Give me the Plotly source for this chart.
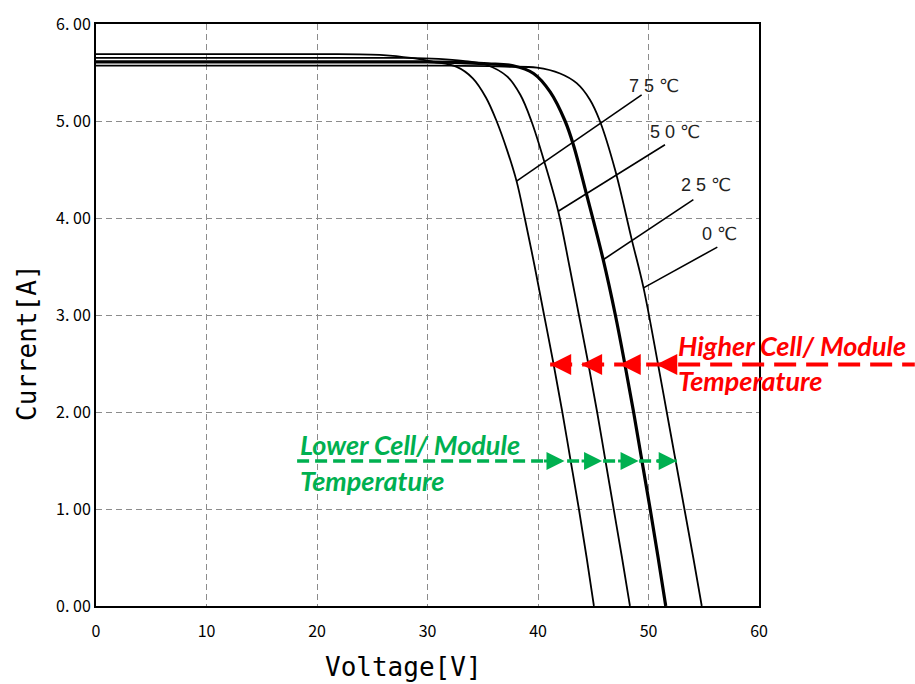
import plotly.graph_objects as go

# I-V characteristics of a PV module at four cell temperatures
v_75 = [0, 20, 26, 28.5, 30.5, 32.6, 34.1, 35.3, 36.25, 37.2, 38.06, 38.8, 39.7, 40.55, 41.4, 42.2, 42.95, 43.7, 44.4, 45.06]
i_75 = [5.69, 5.69, 5.68, 5.65, 5.61, 5.56, 5.44, 5.24, 5.00, 4.70, 4.38, 4.00, 3.50, 3.00, 2.50, 2.00, 1.50, 1.00, 0.50, 0.0]

v_50 = [0, 20, 28, 31, 33.2, 35.3, 37.2, 38.4, 39.4, 40.6, 41.83, 42.85, 43.7, 44.55, 45.35, 46.1, 46.85, 47.6, 48.32]
i_50 = [5.65, 5.65, 5.65, 5.64, 5.62, 5.58, 5.46, 5.27, 5.00, 4.57, 4.07, 3.50, 3.00, 2.50, 2.00, 1.50, 1.00, 0.50, 0.0]

v_25 = [0, 20, 30, 33.5, 35.5, 37.75, 39.6, 41.1, 42.45, 43.2, 44.4, 45.9, 47.0, 47.85, 48.65, 49.4, 50.15, 50.87, 51.56]
i_25 = [5.61, 5.61, 5.61, 5.60, 5.59, 5.57, 5.49, 5.30, 5.00, 4.755, 4.24, 3.57, 3.00, 2.50, 2.00, 1.50, 1.00, 0.50, 0.0]

v_0 = [0, 20, 32, 37, 39.9, 42.0, 43.5, 44.7, 45.6, 46.97, 48.48, 49.55, 50.85, 51.65, 52.45, 53.25, 54.05, 54.82]
i_0 = [5.57, 5.57, 5.57, 5.56, 5.55, 5.49, 5.39, 5.22, 5.00, 4.50, 3.78, 3.28, 2.50, 2.00, 1.50, 1.00, 0.50, 0.0]

# temperature labels and their leader lines (curve point -> label end)
temp_labels = ["7 5 ℃", "5 0 ℃", "2 5 ℃", "0 ℃"]
leader_v0 = [38.06, 41.83, 45.9, 49.55]
leader_i0 = [4.38, 4.07, 3.57, 3.28]
leader_v1 = [49.38, 51.49, 54.06, 56.23]
leader_i1 = [5.27, 4.755, 4.19, 3.70]
label_v = [50.5, 52.4, 55.2, 56.4]
label_i = [5.36, 4.89, 4.34, 3.83]

# temperature-shift arrows
hot_level = 2.49
hot_tips = [41.1, 43.9, 47.4, 50.7]
hot_line_end = 74.1
cold_level = 1.495
cold_tips = [42.4, 45.8, 49.1, 52.55]
cold_line_start = 18.2

x_ticks = [0, 10, 20, 30, 40, 50, 60]
y_ticks = [0, 1, 2, 3, 4, 5, 6]
y_ticktext = ["0. 00", "1. 00", "2. 00", "3. 00", "4. 00", "5. 00", "6. 00"]

X_MAX, Y_MAX = 60, 6

fig = go.Figure()

curves = [(v_75, i_75, 1.8), (v_50, i_50, 1.8), (v_25, i_25, 3.2), (v_0, i_0, 1.8)]
for v, i, w in curves:
    fig.add_trace(go.Scatter(x=v, y=i, mode="lines",
                             line=dict(color="black", width=w, shape="spline", smoothing=1.0),
                             hoverinfo="skip", showlegend=False))

for k in range(len(temp_labels)):
    fig.add_trace(go.Scatter(x=[leader_v0[k], leader_v1[k]], y=[leader_i0[k], leader_i1[k]],
                             mode="lines", line=dict(color="black", width=1.6),
                             hoverinfo="skip", showlegend=False))
    fig.add_annotation(x=label_v[k], y=label_i[k], text=temp_labels[k], showarrow=False,
                       font=dict(family="Liberation Sans, DejaVu Sans", size=18, color="#222"))

RED = "#ff0000"
GREEN = "#00b050"

# dashed shift lines, in paper units so the red one can run past the frame
fig.add_shape(type="line", xref="paper", yref="paper",
              x0=hot_tips[0] / X_MAX, x1=hot_line_end / X_MAX,
              y0=hot_level / Y_MAX, y1=hot_level / Y_MAX,
              line=dict(color=RED, width=4, dash="22px,10px"))
fig.add_shape(type="line", xref="paper", yref="paper",
              x0=cold_line_start / X_MAX, x1=cold_tips[-1] / X_MAX,
              y0=cold_level / Y_MAX, y1=cold_level / Y_MAX,
              line=dict(color=GREEN, width=3.5, dash="12px,6px"))

for t in hot_tips:
    fig.add_annotation(x=t, y=hot_level, ax=22, ay=0, text="", showarrow=True,
                       arrowhead=2, arrowsize=1.2, arrowwidth=3.5, arrowcolor=RED)
for t in cold_tips:
    fig.add_annotation(x=t, y=cold_level, ax=-22, ay=0, text="", showarrow=True,
                       arrowhead=2, arrowsize=1.2, arrowwidth=3, arrowcolor=GREEN)

note_font_r = dict(family="Lato, Open Sans", size=27, color=RED)
note_font_g = dict(family="Lato, Open Sans", size=27, color=GREEN)
fig.add_annotation(xref="paper", yref="paper", x=(676 - 96) / 663, y=(606 - 345) / 582,
                   xanchor="left", yanchor="middle", showarrow=False,
                   text="<b><i>Higher Cell/ Module</i></b>", font=note_font_r)
fig.add_annotation(xref="paper", yref="paper", x=(676 - 96) / 663, y=(606 - 380) / 582,
                   xanchor="left", yanchor="middle", showarrow=False,
                   text="<b><i>Temperature</i></b>", font=note_font_r)
fig.add_annotation(xref="paper", yref="paper", x=(298 - 96) / 663, y=(606 - 444) / 582,
                   xanchor="left", yanchor="middle", showarrow=False,
                   text="<b><i>Lower Cell/ Module</i></b>", font=note_font_g)
fig.add_annotation(xref="paper", yref="paper", x=(298 - 96) / 663, y=(606 - 480) / 582,
                   xanchor="left", yanchor="middle", showarrow=False,
                   text="<b><i>Temperature</i></b>", font=note_font_g)

# axis titles
title_font = dict(family="DejaVu Sans Mono", size=26, color="black")
fig.add_annotation(xref="paper", yref="paper", x=(403 - 96) / 663, y=(606 - 667) / 582,
                   xanchor="center", yanchor="middle", showarrow=False,
                   text="Voltage[V]", font=title_font)
fig.add_annotation(xref="paper", yref="paper", x=(27 - 96) / 663, y=(606 - 343) / 582,
                   xanchor="center", yanchor="middle", showarrow=False, textangle=-90,
                   text="Current[A]", font=title_font)

grid = dict(showgrid=True, gridcolor="#8c8c8c", gridwidth=1.2, griddash="6px,4px",
            showline=True, linecolor="black", linewidth=2, mirror=True,
            zeroline=False, ticks="")
fig.update_xaxes(range=[0, X_MAX], tickvals=x_ticks, ticklabelstandoff=10,
                 tickfont=dict(family="Noto Sans CJK JP", size=16, color="black"), **grid)
fig.update_yaxes(range=[0, Y_MAX], tickvals=y_ticks, ticktext=y_ticktext,
                 tickfont=dict(family="Noto Sans CJK JP", size=16, color="black"), **grid)

fig.update_layout(width=915, height=684, margin=dict(l=96, r=156, t=24, b=78),
                  plot_bgcolor="white", paper_bgcolor="white", showlegend=False)

fig.write_html("out.html")
